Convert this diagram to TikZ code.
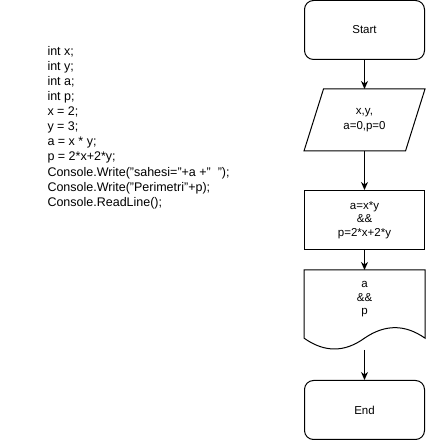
\documentclass[tikz,border=0pt]{standalone}
\usepackage{fontspec}
\setmainfont{Liberation Sans}
\usetikzlibrary{arrows.meta}

\begin{document}
\begin{tikzpicture}[x=1pt,y=1pt,
  line width=1pt,
  chartfont/.style={font=\fontsize{11.5}{13.5}\selectfont},
  codefont/.style={font=\fontsize{12.5}{15.1}\selectfont},
  terminal/.style={draw, rounded corners=9pt, minimum width=120pt, minimum height=59pt,
    inner sep=0pt, chartfont},
  procbox/.style={draw, minimum width=120pt, minimum height=59pt, inner sep=0pt,
    align=center, chartfont},
  shapeframe/.style={minimum width=120pt, inner sep=0pt},
  flow/.style={-{Stealth[length=8pt,width=7pt,inset=2.5pt]}, line width=1pt}
]
\useasboundingbox (0,0) rectangle (425,441);

% program listing
\node (code) [anchor=north west, inner sep=0pt, align=left, codefont] at (47,395.3)
  {int x;\\
   int y;\\
   int a;\\
   int p;\\
   x = 2;\\
   y = 3;\\
   a = x * y;\\
   p = 2*x+2*y;\\
   Console.Write("sahesi="+a +"\ \ ");\\
   Console.Write("Perimetri"+p);\\
   Console.ReadLine();};

% start terminal
\node (start) [terminal] at (364.5,411) {Start};

% input / output parallelogram
\node (inp) [shapeframe, minimum height=61pt, align=center,
  font=\fontsize{11.5}{15}\selectfont] at (364.5,321) {x,y,\\a=0,p=0};
\draw ([xshift=19.5pt]inp.north west) -- (inp.north east)
  -- ([xshift=-19.5pt]inp.south east) -- (inp.south west) -- cycle;

% assignment block
\node (proc) [procbox] at (364.5,221) {a=x*y\\\&\&\\p=2*x+2*y};

% output document with wavy bottom edge
\node (doc) [shapeframe, minimum height=79pt] at (364.5,131) {};
\draw (doc.north west) -- (doc.north east) -- ([yshift=11.85pt]doc.south east)
  .. controls ([xshift=-20pt,yshift=25.85pt]doc.south east)
  and ([xshift=-40pt,yshift=25.85pt]doc.south east) .. ([yshift=11.85pt]doc.south)
  .. controls ([xshift=-20pt,yshift=-2.6pt]doc.south)
  and ([xshift=-40pt,yshift=-2.6pt]doc.south) .. ([yshift=11.85pt]doc.south west)
  -- cycle;
\node (doctext) [align=center, inner sep=0pt, chartfont] at (364.5,141.5) {a\\\&\&\\p};

% end terminal
\node (finish) [terminal] at (364.5,31) {End};

% flow arrows
\draw[flow] (start.south) -- (inp.north);
\draw[flow] (inp.south) -- (proc.north);
\draw[flow] (proc.south) -- (doc.north);
\draw[flow] (doc.south) -- (finish.north);
\end{tikzpicture}
\end{document}
